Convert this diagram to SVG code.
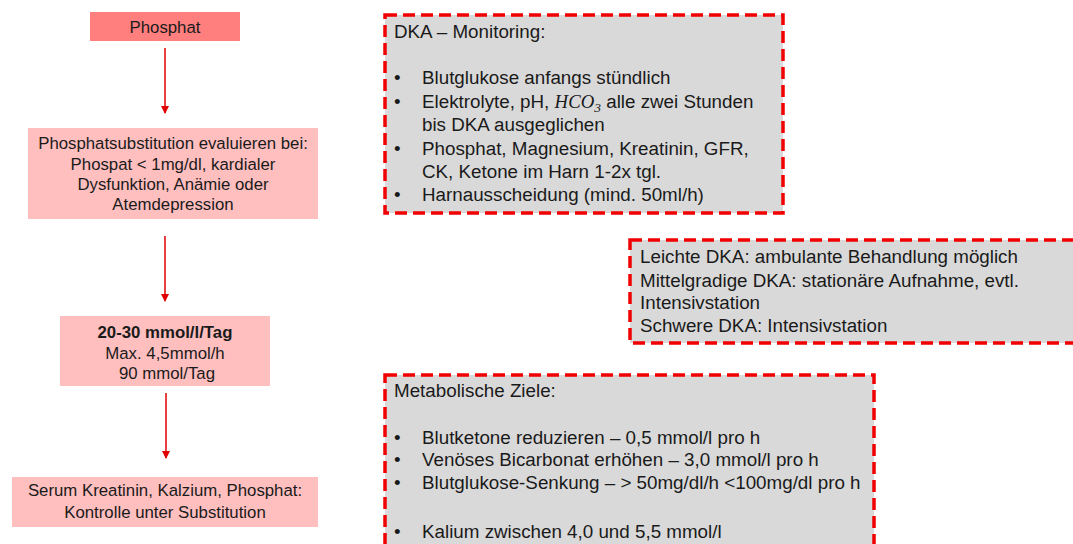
<svg xmlns="http://www.w3.org/2000/svg" width="1073" height="544" viewBox="0 0 1073 544">
  <defs>
    <marker id="arrowhead" viewBox="0 0 8 8" refX="7" refY="4" markerWidth="8" markerHeight="8" markerUnits="userSpaceOnUse" orient="auto">
      <path d="M0,0 L8,4 L0,8 Z" fill="#E00000"/>
    </marker>
    <style>
      .flow { font-family: "Liberation Sans", Arial, sans-serif; font-size: 16.8px; fill: #1a1a1a; text-anchor: middle; }
      .bold { font-weight: bold; }
      .info { font-family: "Liberation Sans", Arial, sans-serif; font-size: 18.8px; fill: #1a1a1a; }
      .math { font-family: "Liberation Serif", "Times New Roman", serif; font-style: italic; }
      .pink { fill: #FFBFBF; }
      .salmon { fill: #FF7F7F; }
      .panel { fill: #D9D9D9; stroke: #F00000; stroke-width: 3.5; stroke-dasharray: 12 6; }
      .conn { stroke: #E00000; stroke-width: 1.5; fill: none; marker-end: url(#arrowhead); }
    </style>
  </defs>
  <rect width="1073" height="544" fill="#FFFFFF"/>

  <!-- flow connectors -->
  <g id="connectors">
    <line class="conn" x1="165" y1="48" x2="165" y2="113"/>
    <line class="conn" x1="165" y1="236" x2="165" y2="301"/>
    <line class="conn" x1="166" y1="393" x2="166" y2="458"/>
  </g>

  <g id="phosphat">
    <rect class="salmon" x="90" y="12" width="150" height="29"/>
    <text class="flow" x="165" y="33">Phosphat</text>
  </g>

  <g id="substitution-evaluieren">
    <rect class="pink" x="28" y="128" width="290" height="91"/>
    <text class="flow" x="173" y="149">Phosphatsubstitution evaluieren bei:</text>
    <text class="flow" x="173" y="170">Phospat &lt; 1mg/dl, kardialer</text>
    <text class="flow" x="173" y="190">Dysfunktion, Anämie oder</text>
    <text class="flow" x="173" y="210">Atemdepression</text>
  </g>

  <g id="dosierung">
    <rect class="pink" x="60" y="316" width="210" height="70"/>
    <text class="flow bold" x="165" y="338">20-30 mmol/l/Tag</text>
    <text class="flow" x="165" y="359">Max. 4,5mmol/h</text>
    <text class="flow" x="167" y="379">90 mmol/Tag</text>
  </g>

  <g id="kontrolle">
    <rect class="pink" x="12" y="477" width="306" height="50"/>
    <text class="flow" x="165" y="496">Serum Kreatinin, Kalzium, Phosphat:</text>
    <text class="flow" x="165" y="518">Kontrolle unter Substitution</text>
  </g>

  <g id="dka-monitoring">
    <rect class="panel" x="385" y="15" width="398" height="198"/>
    <text class="info" x="394" y="38">DKA – Monitoring:</text>
    <text class="info" x="394" y="84">•</text>
    <text class="info" x="422" y="84">Blutglukose anfangs stündlich</text>
    <text class="info" x="394" y="108">•</text>
    <text class="info" x="422" y="108">Elektrolyte, pH, <tspan class="math">HCO</tspan><tspan class="math" font-style="normal" font-size="13.5" dy="4">3</tspan><tspan dy="-4"> alle zwei Stunden</tspan></text>
    <text class="info" x="422" y="131">bis DKA ausgeglichen</text>
    <text class="info" x="394" y="155">•</text>
    <text class="info" x="422" y="155">Phosphat, Magnesium, Kreatinin, GFR,</text>
    <text class="info" x="422" y="178">CK, Ketone im Harn 1-2x tgl.</text>
    <text class="info" x="394" y="201">•</text>
    <text class="info" x="422" y="201">Harnausscheidung (mind. 50ml/h)</text>
  </g>

  <g id="dka-schweregrad">
    <rect class="panel" x="630" y="240" width="460" height="103"/>
    <text class="info" x="640" y="263">Leichte DKA: ambulante Behandlung möglich</text>
    <text class="info" x="640" y="287">Mittelgradige DKA: stationäre Aufnahme, evtl.</text>
    <text class="info" x="640" y="309">Intensivstation</text>
    <text class="info" x="640" y="332">Schwere DKA: Intensivstation</text>
  </g>

  <g id="metabolische-ziele">
    <rect class="panel" x="385" y="375" width="489" height="190"/>
    <text class="info" x="394" y="397">Metabolische Ziele:</text>
    <text class="info" x="394" y="444">•</text>
    <text class="info" x="422" y="444">Blutketone reduzieren – 0,5 mmol/l pro h</text>
    <text class="info" x="394" y="466">•</text>
    <text class="info" x="422" y="466">Venöses Bicarbonat erhöhen – 3,0 mmol/l pro h</text>
    <text class="info" x="394" y="489">•</text>
    <text class="info" x="422" y="489">Blutglukose-Senkung – &gt; 50mg/dl/h &lt;100mg/dl pro h</text>
    <text class="info" x="394" y="538">•</text>
    <text class="info" x="422" y="538">Kalium zwischen 4,0 und 5,5 mmol/l</text>
  </g>
</svg>
